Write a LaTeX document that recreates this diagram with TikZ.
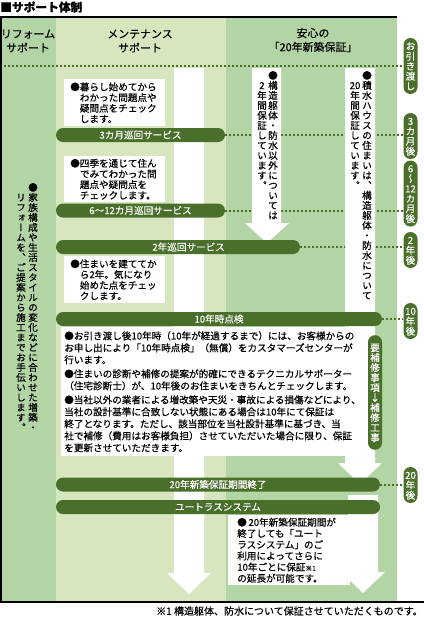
\documentclass[tikz,border=0pt]{standalone}
\usepackage{fontspec}
\setmainfont{Noto Sans CJK JP}[FakeBold=0.5]
\newfontfamily\tatefont{Noto Sans CJK JP}[RawFeature=+vert,FakeBold=0.5]
\usetikzlibrary{positioning,backgrounds}
\definecolor{spDark}{HTML}{4A6F2B}
\definecolor{spMid}{HTML}{B3D4A5}
\definecolor{spLight}{HTML}{D7E6BE}

% vertical writing: one glyph per 10px cell
\newcommand\tatecell[1]{\hbox to 7.2pt{\hss\vrule height 6.6pt depth 0.9pt width 0pt\relax#1\hss}}
\let\tateend\relax
\def\tateloop#1{\ifx\tateend#1\else\tatecell{#1}\expandafter\tateloop\fi}
\newcommand\tate[1]{\vtop{\offinterlineskip\tatefont\tateloop#1\tateend}}
\newcommand\hangj{\hspace*{1em}}

\begin{document}
\begin{tikzpicture}[
    x=0.75pt,y=-0.75pt,
    font=\fontsize{7.2}{8}\selectfont,
    pill/.style={fill=spDark,text=white,rounded corners=5.25pt,minimum height=10.5pt,inner sep=0pt},
    rpill/.style={fill=spDark,text=white,rounded corners=5.25pt,minimum width=10.5pt,
                  inner xsep=0pt,inner ysep=2.25pt},
    tatecol/.style={anchor=north,inner sep=0pt},
    txtbox/.style={fill=white,anchor=north west,align=left,inner ysep=0pt},
    head/.style={align=center,font=\fontsize{8.2}{10.5}\selectfont},
    dotline/.style={draw=spDark,line width=1.5pt,dash pattern=on 1.5pt off 1.5pt},
    wbar/.style={fill=white},
    frame/.style={draw=black,line width=1.5pt}
  ]
  \useasboundingbox (0,0) rectangle (424,618);

  \node[anchor=west,inner sep=0pt,font=\fontsize{8.8}{10}\selectfont\bfseries] (title) at (0,7) {■サポート体制};

  % column heads
  \node[head] (hreform) at (28,41)  {リフォーム\\サポート};
  \node[head] (hmaint)  at (140,41) {メンテナンス\\サポート};
  \node[head] (hsafe)   at (313,40) {安心の\\「20年新築保証」};
  \coordinate (hleft) at (0,66);

  % time marks on the right
  \node[rpill] (rhand) at (410.5,66)    {\tate{お引き渡し}};
  \node[rpill] (r3m)   at (410.5,136)   {\tate{3カ月後}};
  \node[rpill] (r612)  at (410.5,193.5) {\tate{6〜{12}カ月後}};
  \node[rpill] (r2y)   at (410.5,250)   {\tate{2年後}};
  \node[rpill] (r10y)  at (410.5,321)   {\tate{{10}年後}};
  \node[rpill] (r20y)  at (410.5,485)   {\tate{{20}年後}};
  \node[rpill,minimum height=86pt] (repair) at (375,392.5) {\tate{要補修事項↓補修工事}};

  % service bars
  \node[pill,minimum width=126.75pt] (p3m)  at (140.5,135)   {3カ月巡回サービス};
  \node[pill,minimum width=126.75pt] (p612) at (140.5,210.5) {6〜12カ月巡回サービス};
  \node[pill,minimum width=183pt]    (p2y)  at (178,247)     {\hspace*{16pt}2年巡回サービス};
  \node[pill,minimum width=244.5pt]  (p10y) at (219,319)     {10年時点検};
  \node[pill,minimum width=243pt]    (p20y) at (218,484.5)   {20年新築保証期間終了};
  \node[pill,minimum width=243pt]    (putr) at (218,507)     {ユートラスシステム};

  % notes
  \node[txtbox,inner xsep=4.5pt,text width=66.75pt,minimum height=35.25pt] (n3m) at (64,79)
    {●暮らし始めてから\\\hangj わかった問題点や\\\hangj 疑問点をチェック\\\hangj します。};
  \node[txtbox,inner xsep=4.5pt,text width=66.75pt,minimum height=34.5pt] (n612) at (64,156)
    {●四季を通じて住ん\\\hangj でみてわかった問\\\hangj 題点や疑問点を\\\hangj チェックします。};
  \node[txtbox,inner xsep=4.5pt,text width=66.75pt,minimum height=35.25pt] (n2y) at (64,256)
    {●住まいを建ててか\\\hangj ら2年。気になり\\\hangj 始めた点をチェッ\\\hangj クします。};
  \node[txtbox,inner xsep=2.25pt,inner ysep=3pt,text width=223.5pt,font=\fontsize{7.2}{9}\selectfont] (n10y) at (61,327)
    {●お引き渡し後10年時（10年が経過するまで）には、お客様からの\\
     お申し出により「10年時点検」（無償）をカスタマーズセンターが\\
     行います。\\[1.5pt]
     ●住まいの診断や補修の提案が的確にできるテクニカルサポーター\\
     （住宅診断士）が、10年後のお住まいをきちんとチェックします。\\[1.5pt]
     ●当社以外の業者による増改築や天災・事故による損傷などにより、\\
     当社の設計基準に合致しない状態にある場合は10年にて保証は\\
     終了となります。ただし、該当部位を当社設計基準に基づき、当\\
     社で補修（費用はお客様負担）させていただいた場合に限り、保証\\
     を更新させていただきます。};
  \node[txtbox,inner xsep=6.75pt,text width=78pt,minimum height=52.5pt,font=\fontsize{7.2}{8.4}\selectfont] (nutr) at (228,515)
    {●\,20年新築保証期間が\\終了しても「ユート\\ラスシステム」のご\\利用によってさらに\\
     10年ごとに保証{\fontsize{5}{5}\selectfont ※1}\\の延長が可能です。};

  % vertical texts
  \node[tatecol] (lref1) at (33,182) {\tate{●家族構成や生活スタイルの変化などに合わせた増築・}};
  \node[tatecol] (lref2) at (21,192) {\tate{リフォームを、ご提案から施工までお手伝いします。}};
  \node[tatecol] (lsh1) at (273,70) {\tate{●構造躯体・防水以外については}};
  \node[tatecol] (lsh2) at (262,80) {\tate{2年間保証しています。}};
  \node[tatecol] (rsh1) at (367,70) {\tate{●積水ハウスの住まいは、構造躯体・防水について}};
  \node[tatecol] (rsh2) at (355,80) {\tate{{20}年間保証しています。}};

  \node[anchor=east,inner sep=0pt,font=\fontsize{7.5}{9}\selectfont] (fnote) at (423,611)
    {※1 構造躯体、防水について保証させていただくものです。};

  \begin{scope}[on background layer]
    \fill[spMid]   (0,16)   rectangle (56,603);
    \fill[spLight] (56,16)  rectangle (226,603);
    \fill[spMid]   (226,16) rectangle (397,603);

    \draw[dotline] (hleft)     -- (hleft -| rhand.west);
    \draw[dotline] (p3m.east)  -- (p3m.east -| r3m.west);
    \draw[dotline] (p612.east) -- (p612.east -| r612.west);
    \draw[dotline] (p2y.east)  -- (p2y.east -| r2y.west);
    \draw[dotline] (p10y.east) -- (p10y.east -| r10y.west);
    \draw[dotline] (p20y.east) -- (p20y.east -| r20y.west);

    % white flow arrows
    \fill[wbar] (174,68) -- (204,68) -- (204,573) -- (211,573) -- (189,594) -- (167,573) -- (174,573) -- cycle;
    \fill[wbar] (252,68) -- (281,68) -- (281,223) -- (289,223) -- (267,243) -- (245,223) -- (252,223) -- cycle;
    \fill[wbar] (345,68) -- (375,68) -- (375,463) -- (382,463) -- (360,484) -- (338,463) -- (345,463) -- cycle;
    \fill[wbar] (348,495) -- (378,495) -- (378,572) -- (385,572) -- (363,593) -- (341,572) -- (348,572) -- cycle;
  \end{scope}

  \draw[frame] (397,17) -- (1,17) -- (1,602) -- (424,602);
\end{tikzpicture}
\end{document}
